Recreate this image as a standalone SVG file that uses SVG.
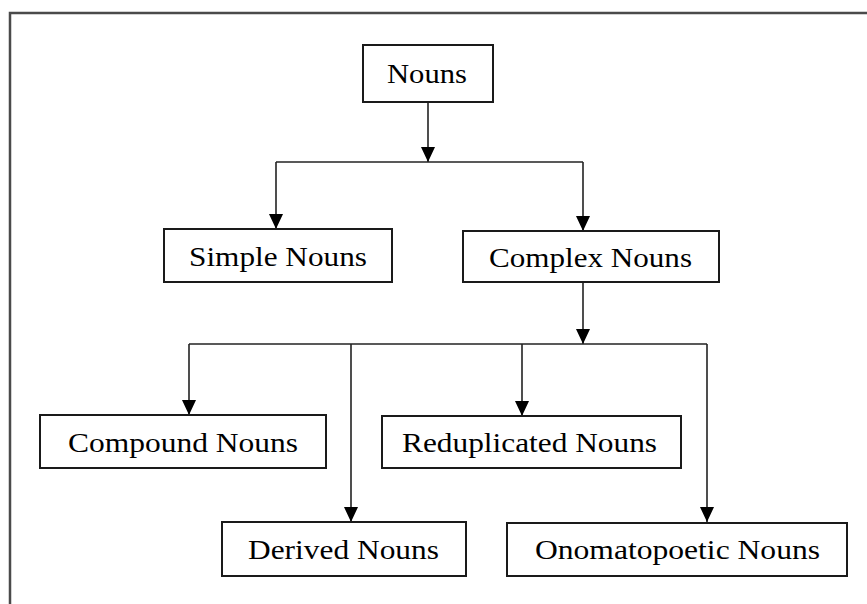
<svg xmlns="http://www.w3.org/2000/svg" width="867" height="604" viewBox="0 0 867 604">
  <defs>
    <style>
      .frame { fill: none; stroke: #4a4a4a; stroke-width: 2.5; }
      .box { fill: #ffffff; stroke: #1a1a1a; stroke-width: 2; }
      .label { font-family: "Liberation Serif", "Times New Roman", serif; font-size: 28px; fill: #000000; }
      .wire { fill: none; stroke: #222222; stroke-width: 1.6; }
      .arrow { fill: none; stroke: #222222; stroke-width: 1.6; marker-end: url(#head); }
    </style>
    <marker id="head" markerUnits="userSpaceOnUse" markerWidth="16" markerHeight="16" viewBox="0 0 16 16" refX="15" refY="8" orient="auto">
      <path d="M0,1 L15,8 L0,15 Z" fill="#000000"/>
    </marker>
  </defs>
  <rect width="867" height="604" fill="#ffffff"/>
  <!-- outer page frame, open on the right and bottom -->
  <path class="frame" d="M10,604 V13 H867"/>

  <g id="connectors">
    <!-- Nouns to first level -->
    <path class="arrow" d="M428,102 V162"/>
    <path class="wire" d="M276,162 H583"/>
    <path class="arrow" d="M276,162 V229"/>
    <path class="arrow" d="M583,162 V231"/>
    <!-- Complex Nouns to its subtypes -->
    <path class="arrow" d="M583,282 V344"/>
    <path class="wire" d="M189,344 H707"/>
    <path class="arrow" d="M189,344 V415"/>
    <path class="arrow" d="M351,344 V522"/>
    <path class="arrow" d="M522,344 V416"/>
    <path class="arrow" d="M707,344 V522"/>
  </g>

  <g id="nouns">
    <rect class="box" x="363" y="45" width="130" height="57"/>
    <text class="label" x="427" y="83" text-anchor="middle" textLength="80" lengthAdjust="spacingAndGlyphs">Nouns</text>
  </g>
  <g id="simple-nouns">
    <rect class="box" x="164" y="229" width="228" height="53"/>
    <text class="label" x="278" y="266" text-anchor="middle" textLength="178" lengthAdjust="spacingAndGlyphs">Simple Nouns</text>
  </g>
  <g id="complex-nouns">
    <rect class="box" x="463" y="231" width="256" height="51"/>
    <text class="label" x="590.5" y="267" text-anchor="middle" textLength="203" lengthAdjust="spacingAndGlyphs">Complex Nouns</text>
  </g>
  <g id="compound-nouns">
    <rect class="box" x="40" y="415" width="286" height="53"/>
    <text class="label" x="183" y="452" text-anchor="middle" textLength="230" lengthAdjust="spacingAndGlyphs">Compound Nouns</text>
  </g>
  <g id="reduplicated-nouns">
    <rect class="box" x="382" y="416" width="299" height="52"/>
    <text class="label" x="529.5" y="452" text-anchor="middle" textLength="255" lengthAdjust="spacingAndGlyphs">Reduplicated Nouns</text>
  </g>
  <g id="derived-nouns">
    <rect class="box" x="222" y="522" width="244" height="54"/>
    <text class="label" x="343.5" y="559" text-anchor="middle" textLength="191" lengthAdjust="spacingAndGlyphs">Derived Nouns</text>
  </g>
  <g id="onomatopoetic-nouns">
    <rect class="box" x="507" y="523" width="340" height="53"/>
    <text class="label" x="677.5" y="559" text-anchor="middle" textLength="285" lengthAdjust="spacingAndGlyphs">Onomatopoetic Nouns</text>
  </g>
</svg>
